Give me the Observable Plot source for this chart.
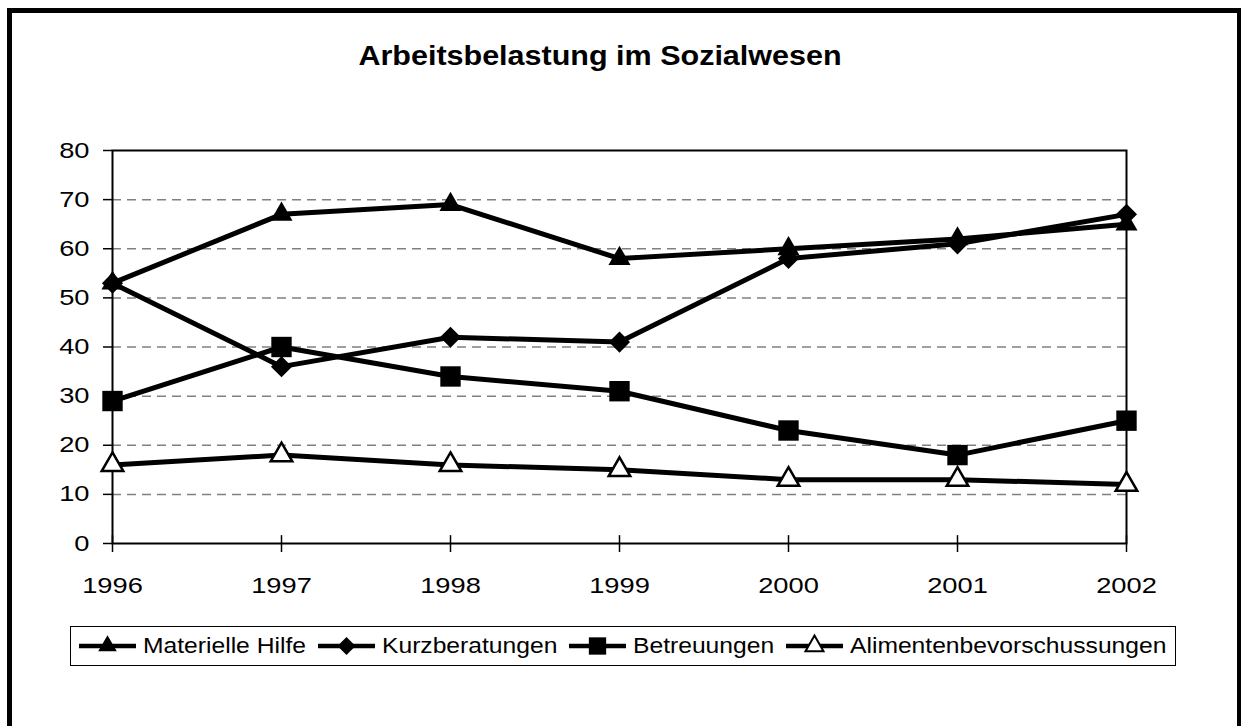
<!DOCTYPE html>
<html>
<head>
<meta charset="utf-8">
<script src="https://cdn.jsdelivr.net/npm/d3@7"></script>
<script src="https://cdn.jsdelivr.net/npm/@observablehq/plot@0.6"></script>
<style>
  html, body { margin: 0; padding: 0; background: #fff; overflow: hidden; }
  body { width: 1241px; height: 726px; position: relative; font-family: "Liberation Sans", Arial, sans-serif; }
  #border { position: absolute; left: 7px; top: 8px; width: 1225px; height: 740px; border: 5px solid #000; }
  #title { position: absolute; top: 43px; left: 600px; font-size: 27px; line-height: 27px; font-weight: bold; white-space: nowrap; transform: translateX(-50%) scaleX(1.13); color: #000; }
  #chart { position: absolute; left: 0; top: 0; }
  #legend { position: absolute; left: 70px; top: 626px; width: 1096px; height: 38px; border: 1px solid #000; display: flex; align-items: center; box-sizing: content-box; padding-left: 8px; }
  .item { display: flex; align-items: center; margin-right: 12px; }
  .item svg { display: block; margin-right: 7px; }
  .lbl { display: inline-block; height: 22px; position: relative; }
  .lbl span { position: absolute; left: 0; top: 0; font-size: 22px; line-height: 22px; white-space: nowrap; transform-origin: 0 0; transform: scaleX(1.12); }
</style>
</head>
<body>
<div id="border"></div>
<div id="title">Arbeitsbelastung im Sozialwesen</div>
<div id="chart"></div>
<div id="legend"></div>
<script>
// ---- data ----
const years = [1996, 1997, 1998, 1999, 2000, 2001, 2002];
const materielleHilfe = [53, 67, 69, 58, 60, 62, 65];
const kurzberatungen = [53, 36, 42, 41, 58, 61, 67];
const betreuungen = [29, 40, 34, 31, 23, 18, 25];
const alimentenbevorschussungen = [16, 18, 16, 15, 13, 13, 12];
const seriesNames = ["Materielle Hilfe", "Kurzberatungen", "Betreuungen", "Alimentenbevorschussungen"];
const yTicks = [0, 10, 20, 30, 40, 50, 60, 70, 80];
const gridTicks = [10, 20, 30, 40, 50, 60, 70];

const seriesValues = [materielleHilfe, kurzberatungen, betreuungen, alimentenbevorschussungen];
const rows = [];
seriesNames.forEach((s, si) => years.forEach((y, i) => rows.push({series: s, year: y, value: seriesValues[si][i]})));
const bySeries = name => rows.filter(d => d.series === name);

const symbolSpec = {
  "Materielle Hilfe": {symbol: "triangle", r: 8.2, fill: "black", stroke: "none", sw: 0},
  "Kurzberatungen": {symbol: "diamond2", r: 9.5, fill: "black", stroke: "none", sw: 0},
  "Betreuungen": {symbol: "square", r: 11.5, fill: "black", stroke: "none", sw: 0},
  "Alimentenbevorschussungen": {symbol: "triangle", r: 8, fill: "white", stroke: "black", sw: 2.5}
};

const marks = [
  Plot.gridY(gridTicks, {stroke: "#808080", strokeOpacity: 1, strokeWidth: 1.5, strokeDasharray: "9,6"}),
  Plot.frame({stroke: "black", strokeWidth: 2}),
  Plot.ruleX(years, {x: d => d, y1: 0, y2: 1.6, stroke: "black", strokeWidth: 1.5}),
  Plot.axisY({ticks: yTicks, label: null, tickSize: 9, tickPadding: 14, fontSize: 22, stroke: "black", strokeWidth: 1.5}),
  Plot.axisX({ticks: years, label: null, tickFormat: d => String(d), tickSize: 9, tickPadding: 25, fontSize: 22, stroke: "black", strokeWidth: 1.5}),
  Plot.line(rows, {x: "year", y: "value", z: "series", stroke: "black", strokeWidth: 5, strokeLinejoin: "miter"})
];
seriesNames.forEach(name => {
  const s = symbolSpec[name];
  marks.push(Plot.dot(bySeries(name), {x: "year", y: "value", symbol: () => s.symbol, r: s.r, fill: s.fill, stroke: s.stroke, strokeWidth: s.sw}));
});

const svg = Plot.plot({
  width: 1241,
  height: 600,
  marginLeft: 112,
  marginRight: 115,
  marginTop: 150,
  marginBottom: 57,
  style: {fontFamily: "'Liberation Sans', Arial, sans-serif", color: "black", background: "transparent", overflow: "visible"},
  x: {type: "linear", domain: [years[0], years[years.length - 1]], axis: null, label: null},
  y: {domain: [yTicks[0], yTicks[yTicks.length - 1]], axis: null, label: null},
  marks
});
document.getElementById("chart").appendChild(svg);

// stretch tick labels horizontally (wide font in reference)
svg.querySelectorAll('g[aria-label$="tick label"] text').forEach(t => {
  const tr = t.getAttribute("transform") || "";
  t.setAttribute("transform", tr + " scale(1.24,1)");
});

// ---- legend ----
const legendSym = {
  "Materielle Hilfe": {type: d3.symbolTriangle, size: 150, fill: "black", stroke: "none", sw: 0},
  "Kurzberatungen": {type: d3.symbolDiamond2, size: 206, fill: "black", stroke: "none", sw: 0},
  "Betreuungen": {type: d3.symbolSquare, size: 300, fill: "black", stroke: "none", sw: 0},
  "Alimentenbevorschussungen": {type: d3.symbolTriangle, size: 140, fill: "white", stroke: "black", sw: 2}
};
const legend = document.getElementById("legend");
seriesNames.forEach(name => {
  const item = document.createElement("div");
  item.className = "item";
  const ls = legendSym[name];
  const w = 57, h = 26;
  const s = d3.create("svg").attr("width", w).attr("height", h);
  s.append("line").attr("x1", 0).attr("x2", w).attr("y1", h / 2).attr("y2", h / 2).attr("stroke", "black").attr("stroke-width", 4.5);
  s.append("path").attr("transform", `translate(${w / 2},${h / 2})`)
    .attr("d", d3.symbol(ls.type, ls.size)())
    .attr("fill", ls.fill).attr("stroke", ls.stroke).attr("stroke-width", ls.sw);
  item.appendChild(s.node());
  const lbl = document.createElement("span");
  lbl.className = "lbl";
  const inner = document.createElement("span");
  inner.textContent = name;
  lbl.appendChild(inner);
  item.appendChild(lbl);
  legend.appendChild(item);
  lbl.style.width = inner.getBoundingClientRect().width + "px";
});
</script>
</body>
</html>
